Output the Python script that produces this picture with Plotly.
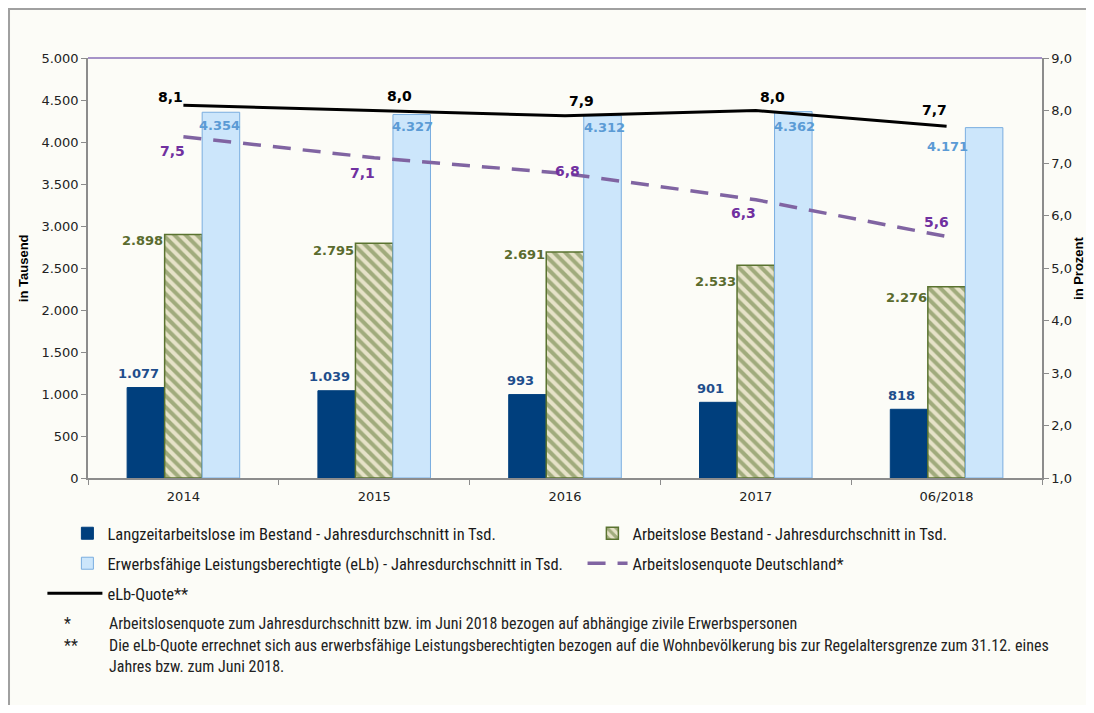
import plotly.graph_objects as go

categories = ["2014", "2015", "2016", "2017", "06/2018"]
langzeit = [1077, 1039, 993, 901, 818]
arbeitslose = [2898, 2795, 2691, 2533, 2276]
elb = [4354, 4327, 4312, 4362, 4171]
alq = [7.5, 7.1, 6.8, 6.3, 5.6]
elb_quote = [8.1, 8.0, 7.9, 8.0, 7.7]

left_ticks = [0, 500, 1000, 1500, 2000, 2500, 3000, 3500, 4000, 4500, 5000]
left_ticktext = ["0", "500", "1.000", "1.500", "2.000", "2.500", "3.000", "3.500", "4.000", "4.500", "5.000"]
right_ticks = [1, 2, 3, 4, 5, 6, 7, 8, 9]
right_ticktext = ["1,0", "2,0", "3,0", "4,0", "5,0", "6,0", "7,0", "8,0", "9,0"]

names = [
    "Langzeitarbeitslose im Bestand - Jahresdurchschnitt in Tsd.",
    "Arbeitslose Bestand - Jahresdurchschnitt in Tsd.",
    "Erwerbsfähige Leistungsberechtigte (eLb) - Jahresdurchschnitt in Tsd.",
    "Arbeitslosenquote Deutschland*",
    "eLb-Quote**",
]

def de_int(v):
    return f"{v:,}".replace(",", ".")

def de_dec(v):
    return f"{v:.1f}".replace(".", ",")

BG = "#fcfcf7"
NUM_FONT = "Tahoma, DejaVu Sans, sans-serif"
LEG_FONT = "Liberation Sans Narrow, Roboto Condensed, Liberation Sans, sans-serif"

fig = go.Figure()
fig.add_trace(go.Bar(x=categories, y=langzeit, name=names[0], legend="legend", showlegend=True,
                     marker=dict(color="#003f7d", line=dict(color="#003f7d", width=1))))
fig.add_trace(go.Bar(x=categories, y=arbeitslose, name=names[1], legend="legend2", showlegend=True,
                     marker=dict(color="#e6e2c8", line=dict(color="#5a7330", width=1.5),
                                 pattern=dict(shape="\\", fgcolor="#5a7330", bgcolor="#e6e2c8",
                                              size=8, solidity=0.5))))
fig.add_trace(go.Bar(x=categories, y=elb, name=names[2], legend="legend3", showlegend=True,
                     marker=dict(color="#cce6fb", line=dict(color="#7aaee0", width=1))))
fig.add_trace(go.Scatter(x=categories, y=alq, name=names[3], yaxis="y2", mode="lines",
                         legend="legend4", showlegend=True,
                         line=dict(color="#8064a2", width=3.5, dash="18px,12px")))
fig.add_trace(go.Scatter(x=categories, y=elb_quote, name=names[4], yaxis="y2", mode="lines",
                         legend="legend5", showlegend=True,
                         line=dict(color="#000000", width=3)))

ann = []
# dark blue bar labels
for i, v in enumerate(langzeit):
    ann.append(dict(x=i, y=v, xref="x", yref="y", text="<b>" + de_int(v) + "</b>", showarrow=False,
                    xshift=-45, yshift=14, font=dict(family=NUM_FONT, size=13, color="#1f4e8c")))
# green labels (left of hatched bar top)
green_dy = [-6, -7, -3, -16, -11]
for i, (v, dy) in enumerate(zip(arbeitslose, green_dy)):
    ann.append(dict(x=i, y=v, xref="x", yref="y", text="<b>" + de_int(v) + "</b>", showarrow=False,
                    xanchor="right", xshift=-18, yshift=dy,
                    font=dict(family=NUM_FONT, size=13, color="#5a6b2e")))
# light blue labels
lb_dx = [36, 38, 39, 39, 1]
lb_dy = [-13, -12, -12, -15, -19]
for i, (v, dx, dy) in enumerate(zip(elb, lb_dx, lb_dy)):
    ann.append(dict(x=i, y=v, xref="x", yref="y", text="<b>" + de_int(v) + "</b>", showarrow=False,
                    xshift=dx, yshift=dy, font=dict(family=NUM_FONT, size=13, color="#5b9bd5")))
# eLb-Quote labels
q_dx = [-13, 25, 16, 17, -12]
q_dy = [8, 15, 15, 14, 16]
for i, (v, dx, dy) in enumerate(zip(elb_quote, q_dx, q_dy)):
    ann.append(dict(x=i, y=v, xref="x", yref="y2", text="<b>" + de_dec(v) + "</b>", showarrow=False,
                    xshift=dx, yshift=dy, font=dict(family=NUM_FONT, size=14, color="#000000")))
# ALQ labels
a_dx = [-11, -12, 2, -12, -10]
a_dy = [-14, -15, 3, -13, 15]
for i, (v, dx, dy) in enumerate(zip(alq, a_dx, a_dy)):
    ann.append(dict(x=i, y=v, xref="x", yref="y2", text="<b>" + de_dec(v) + "</b>", showarrow=False,
                    xshift=dx, yshift=dy, font=dict(family=NUM_FONT, size=14, color="#7030a0")))

# axis titles
ann.append(dict(x=-0.068, y=0.5, xref="paper", yref="paper", text="<b>in Tausend</b>",
                textangle=-90, showarrow=False, xanchor="center",
                font=dict(family="Arial, Liberation Sans", size=13, color="#000")))
ann.append(dict(x=1.0377, y=0.5, xref="paper", yref="paper", text="<b>in Prozent</b>",
                textangle=-90, showarrow=False, xanchor="center",
                font=dict(family="Arial, Liberation Sans", size=13, color="#000")))

# footnotes
FOOT = dict(family=LEG_FONT, size=16, color="#222")
foot_items = [
    ("*", -0.319, "Arbeitslosenquote zum Jahresdurchschnitt bzw. im Juni 2018 bezogen auf abhängige zivile Erwerbspersonen"),
    ("**", -0.372, "Die eLb-Quote errechnet sich aus erwerbsfähige Leistungsberechtigten bezogen auf die Wohnbevölkerung bis zur Regelaltersgrenze zum 31.12. eines<br>Jahres bzw. zum Juni 2018."),
]
for star, sy, txt in foot_items:
    ann.append(dict(x=-0.0273, y=sy, xref="paper", yref="paper", text=star, showarrow=False,
                    xanchor="left", yanchor="top", font=FOOT))
    ann.append(dict(x=0.0199, y=sy, xref="paper", yref="paper", text=txt, showarrow=False,
                    xanchor="left", yanchor="top", align="left", font=FOOT))

shapes = [
    dict(type="line", xref="paper", yref="paper", x0=0, x1=1, y0=1, y1=1,
         line=dict(color="#8a70b8", width=1.5)),
    dict(type="line", xref="paper", yref="paper", x0=-0.0828, x1=-0.0828, y0=1.2, y1=-0.7,
         line=dict(color="#a0a0a0", width=2)),
    dict(type="line", xref="paper", yref="paper", x0=-0.1, x1=1.1, y0=1.1167, y1=1.1167,
         line=dict(color="#a0a0a0", width=2)),
]

def leg(x, y, iw=30):
    return dict(orientation="v", x=x, y=y, xanchor="left", yanchor="top", bgcolor="rgba(0,0,0,0)",
                font=dict(family=LEG_FONT, size=16.5, color="#1a1a1a"), itemwidth=iw, visible=True)

fig.update_layout(
    width=1078, height=697,
    margin=dict(l=80, r=44, t=50, b=227),
    paper_bgcolor=BG, plot_bgcolor=BG,
    showlegend=True,
    barmode="group", bargap=0.41, bargroupgap=0,
    font=dict(family=NUM_FONT, size=13, color="#222"),
    xaxis=dict(type="category", range=[-0.5, 4.5], showline=True, linecolor="#8c8c8c", linewidth=1.5,
               ticks="outside", tickson="boundaries", ticklen=5, tickcolor="#8c8c8c",
               ticklabelstandoff=6,
               tickfont=dict(family=NUM_FONT, size=13, color="#222"), showgrid=False),
    yaxis=dict(range=[0, 5000], tickvals=left_ticks, ticktext=left_ticktext,
               showline=True, linecolor="#8c8c8c", linewidth=1.5, ticks="outside",
               ticklen=5, tickcolor="#8c8c8c", showgrid=False, zeroline=False,
               tickfont=dict(family=NUM_FONT, size=13, color="#222")),
    yaxis2=dict(range=[1, 9], tickvals=right_ticks, ticktext=right_ticktext, overlaying="y",
                side="right", showline=True, linecolor="#8c8c8c", linewidth=1.5,
                ticks="outside", ticklen=5, tickcolor="#8c8c8c", showgrid=False, zeroline=False,
                tickfont=dict(family=NUM_FONT, size=13, color="#222")),
    legend=leg(-0.0216, -0.0905),
    legend2=leg(0.5287, -0.0905),
    legend3=leg(-0.0216, -0.1619),
    legend4=leg(0.5184, -0.1619, 40),
    legend5=leg(-0.0478, -0.2333, 55),
    annotations=ann,
    shapes=shapes,
)

fig.write_html("out.html")
